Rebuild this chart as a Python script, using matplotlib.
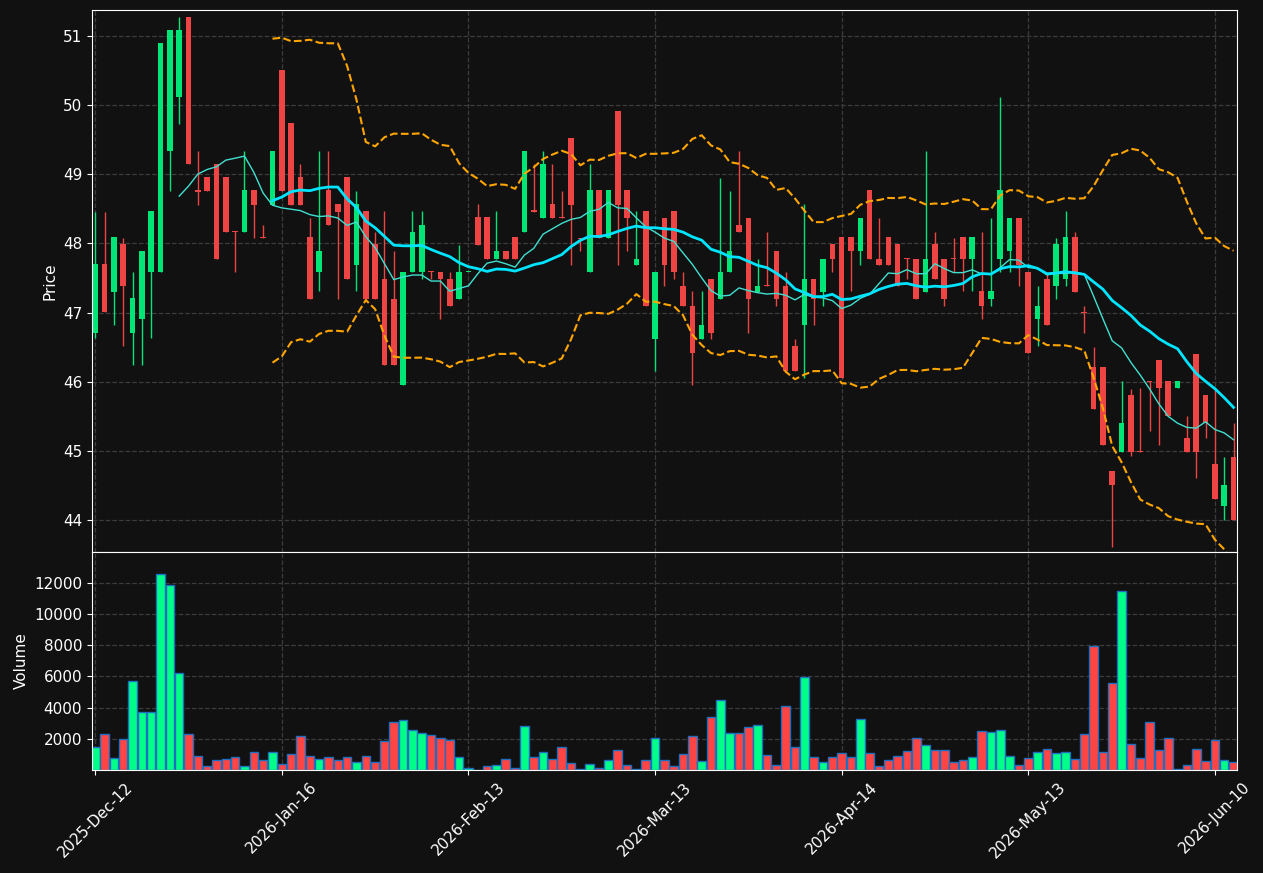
import matplotlib
matplotlib.use("Agg")
import matplotlib.pyplot as plt
import numpy as np
import pandas as pd

# ローソク足データ
opens = [46.71, 47.70, 47.30, 47.99, 46.71, 46.91, 47.59, 47.59, 49.33, 50.12,
         51.28, 48.77, 48.96, 49.15, 48.96, 48.18, 48.17, 48.77, 48.09, 48.56,
         50.51, 49.74, 48.96, 48.09, 47.59, 48.77, 48.57, 48.96, 47.69, 48.47,
         47.99, 47.49, 47.20, 45.95, 47.59, 47.59, 47.60, 47.59, 47.49, 47.20,
         47.59, 48.38, 48.38, 47.78, 47.89, 48.09, 48.17, 48.48, 48.37, 48.57,
         48.38, 49.53, 48.08, 47.59, 48.77, 48.08, 49.92, 48.77, 47.69, 48.47,
         46.62, 48.37, 48.47, 47.39, 47.10, 46.62, 47.49, 47.20, 47.59, 48.27,
         48.37, 47.30, 47.40, 47.89, 47.39, 46.52, 46.82, 47.49, 47.30, 47.99,
         48.09, 48.09, 47.89, 48.77, 47.78, 48.09, 47.99, 47.79, 47.78, 47.30,
         47.99, 47.78, 47.79, 48.09, 47.78, 47.31, 47.20, 47.78, 47.89, 48.37,
         47.59, 46.91, 47.49, 47.39, 47.49, 48.09, 47.01, 46.21, 46.21, 44.71,
         44.99, 45.81, 45.00, 46.01, 46.31, 46.01, 45.91, 45.19, 46.40, 45.81,
         44.81, 44.20, 44.91]
highs = [48.46, 48.46, 48.09, 48.08, 47.59, 47.89, 48.47, 50.90, 51.09, 51.28,
         51.28, 49.33, 48.96, 49.15, 48.96, 48.18, 49.33, 48.77, 48.27, 49.34,
         50.51, 49.74, 49.15, 48.37, 49.33, 49.33, 48.57, 48.96, 48.76, 48.47,
         48.17, 48.47, 47.89, 47.59, 48.47, 48.47, 47.60, 47.59, 47.59, 47.98,
         47.59, 48.57, 48.38, 48.47, 47.89, 48.09, 49.34, 49.15, 49.34, 49.15,
         48.76, 49.53, 48.08, 49.15, 48.77, 48.77, 49.92, 48.77, 48.47, 48.47,
         47.59, 48.37, 48.47, 47.59, 47.31, 47.31, 47.49, 48.95, 48.76, 49.33,
         48.37, 47.78, 48.17, 47.89, 47.59, 46.62, 48.57, 47.49, 47.78, 47.99,
         48.09, 48.09, 48.37, 48.77, 48.37, 48.09, 47.99, 47.79, 47.78, 49.33,
         48.17, 47.78, 48.08, 48.09, 48.09, 48.17, 48.37, 50.12, 48.37, 48.37,
         47.59, 47.39, 47.59, 48.08, 48.47, 48.17, 47.10, 46.50, 46.21, 44.71,
         46.01, 45.90, 45.91, 46.01, 46.31, 46.01, 46.01, 45.50, 46.40, 45.81,
         45.90, 44.91, 45.41]
lows = [46.63, 47.01, 46.82, 46.52, 46.24, 46.24, 46.63, 47.59, 48.76, 49.73,
        49.15, 48.56, 48.76, 47.78, 48.17, 47.59, 48.17, 48.08, 48.08, 48.56,
        48.76, 48.56, 48.56, 47.20, 47.31, 48.27, 47.20, 47.49, 47.31, 47.20,
        47.20, 46.24, 46.24, 45.95, 47.59, 47.49, 47.49, 46.91, 47.10, 47.20,
        47.59, 47.98, 47.78, 47.78, 47.78, 47.78, 48.17, 48.46, 48.37, 48.37,
        48.37, 47.69, 47.89, 47.59, 48.08, 48.08, 47.69, 47.89, 47.69, 47.10,
        46.15, 47.39, 47.49, 47.10, 45.95, 46.62, 46.62, 47.20, 47.59, 48.17,
        46.71, 47.30, 47.39, 47.10, 46.15, 46.15, 46.05, 46.82, 47.10, 47.59,
        46.05, 47.31, 47.69, 47.78, 47.69, 47.69, 47.39, 47.49, 47.20, 47.30,
        47.49, 47.10, 47.59, 47.31, 47.31, 46.91, 47.10, 47.59, 47.59, 47.39,
        46.42, 46.52, 46.82, 47.20, 47.39, 47.30, 46.70, 45.60, 45.09, 43.61,
        44.99, 44.92, 44.99, 45.29, 45.09, 45.50, 45.91, 44.99, 44.61, 45.19,
        44.30, 44.00, 44.00]
closes = [47.70, 47.01, 48.09, 47.39, 47.21, 47.89, 48.47, 50.90, 51.09, 51.09,
          49.15, 48.75, 48.76, 47.78, 48.17, 48.17, 48.77, 48.56, 48.08, 49.34,
          48.76, 48.56, 48.56, 47.20, 47.89, 48.27, 48.46, 47.49, 48.57, 47.20,
          47.20, 46.24, 46.24, 47.59, 48.17, 48.27, 47.59, 47.49, 47.10, 47.59,
          47.59, 47.98, 47.78, 47.89, 47.78, 47.78, 49.34, 48.46, 49.15, 48.37,
          48.37, 48.56, 48.06, 48.77, 48.08, 48.77, 48.56, 48.37, 47.78, 47.10,
          47.59, 47.69, 47.59, 47.10, 46.42, 46.82, 46.71, 47.59, 47.89, 48.17,
          47.20, 47.39, 47.39, 47.20, 46.15, 46.15, 47.49, 47.20, 47.78, 47.78,
          46.05, 47.89, 48.37, 47.78, 47.69, 47.69, 47.39, 47.78, 47.20, 47.78,
          47.49, 47.20, 47.78, 47.78, 48.09, 47.10, 47.31, 48.77, 48.37, 47.69,
          46.42, 47.10, 46.82, 47.99, 48.09, 47.30, 47.00, 45.60, 45.09, 44.50,
          45.41, 44.99, 44.99, 46.00, 45.91, 45.50, 46.01, 44.99, 44.99, 45.41,
          44.30, 44.50, 44.00]
volumes = [1450, 2280, 750, 1960, 5730, 3750, 3690, 12570, 11870, 6240,
           2280, 870, 230, 620, 680, 810, 230, 1130, 620, 1130,
           360, 1000, 2150, 870, 680, 810, 620, 810, 490, 870,
           490, 1830, 3050, 3180, 2540, 2340, 2220, 2020, 1900, 810,
           110, 20, 230, 300, 680, 110, 2790, 810, 1130, 680,
           1450, 430, 40, 360, 110, 620, 1260, 300, 40, 620,
           2020, 620, 230, 1000, 2150, 550, 3370, 4520, 2340, 2340,
           2730, 2860, 940, 300, 4130, 1450, 5990, 810, 490, 810,
           1070, 810, 3240, 1070, 230, 620, 870, 1190, 2020, 1580,
           1260, 1260, 490, 620, 810, 2470, 2410, 2540, 870, 300,
           750, 1130, 1320, 1070, 1130, 680, 2280, 7970, 1130, 5600,
           11490, 1640, 750, 3050, 1260, 2020, 40, 300, 1320, 550,
           1900, 620, 490]

# x軸の日付ラベル（20本ごと）
tick_pos = [0, 20, 40, 60, 80, 100, 120]
tick_labels = ["2025-Dec-12", "2026-Jan-16", "2026-Feb-13", "2026-Mar-13",
               "2026-Apr-14", "2026-May-13", "2026-Jun-10"]

bg = "#111111"
up_c = "#00e676"
down_c = "#ef4444"
vol_up = "#00ff88"
vol_down = "#ff4444"

df = pd.DataFrame({"open": opens, "high": highs, "low": lows,
                   "close": closes, "volume": volumes})
x = np.arange(len(df))
up = df["close"] >= df["open"]

# 移動平均とボリンジャーバンド
ma10 = df["close"].rolling(10).mean()
ma20 = df["close"].rolling(20).mean()
sd20 = df["close"].rolling(20).std(ddof=0)
bb_up = ma20 + 2 * sd20
bb_lo = ma20 - 2 * sd20

fig = plt.figure(figsize=(12.63, 8.73), dpi=100, facecolor=bg)
ax = fig.add_axes([0.0728, 0.3677, 0.9066, 0.6208], facecolor=bg)
axv = fig.add_axes([0.0728, 0.1180, 0.9066, 0.2497], facecolor=bg, sharex=ax)

# ローソク足
colors = [up_c if u else down_c for u in up]
ax.vlines(x, df["low"], df["high"], colors=colors, linewidth=1)
body = (df["close"] - df["open"]).abs().clip(lower=0.015)
ax.bar(x, body, bottom=df[["open", "close"]].min(axis=1), width=0.6,
       color=colors, linewidth=0)

ax.plot(x, ma10, color="#40e0d0", linewidth=1)
ax.plot(x, ma20, color="#00e5ff", linewidth=2)
ax.plot(x, bb_up, color="orange", linestyle="--", linewidth=1.5)
ax.plot(x, bb_lo, color="orange", linestyle="--", linewidth=1.5)

ax.set_ylim(43.537, 51.376)
ax.set_xlim(-0.35, 122.37)
ax.set_ylabel("Price", color="white", fontsize=11)

# 出来高
vcolors = [vol_up if u else vol_down for u in up]
axv.bar(x, df["volume"], width=0.92, color=vcolors, edgecolor="#1f6fc0",
        linewidth=1)
axv.set_ylim(0, 13980)
axv.set_yticks(range(2000, 12001, 2000))
axv.set_ylabel("Volume", color="white", fontsize=11)
axv.set_xticks(tick_pos)
axv.set_xticklabels(tick_labels, rotation=45)
plt.setp(ax.get_xticklabels(), visible=False)

for a in (ax, axv):
    a.grid(True, linestyle="--", color="#3c3c3c", linewidth=0.9)
    a.set_axisbelow(True)
    a.tick_params(colors="white", labelsize=11)
    for s in a.spines.values():
        s.set_color("white")

fig.savefig("out.png", dpi=100, facecolor=bg)
plt.close(fig)
